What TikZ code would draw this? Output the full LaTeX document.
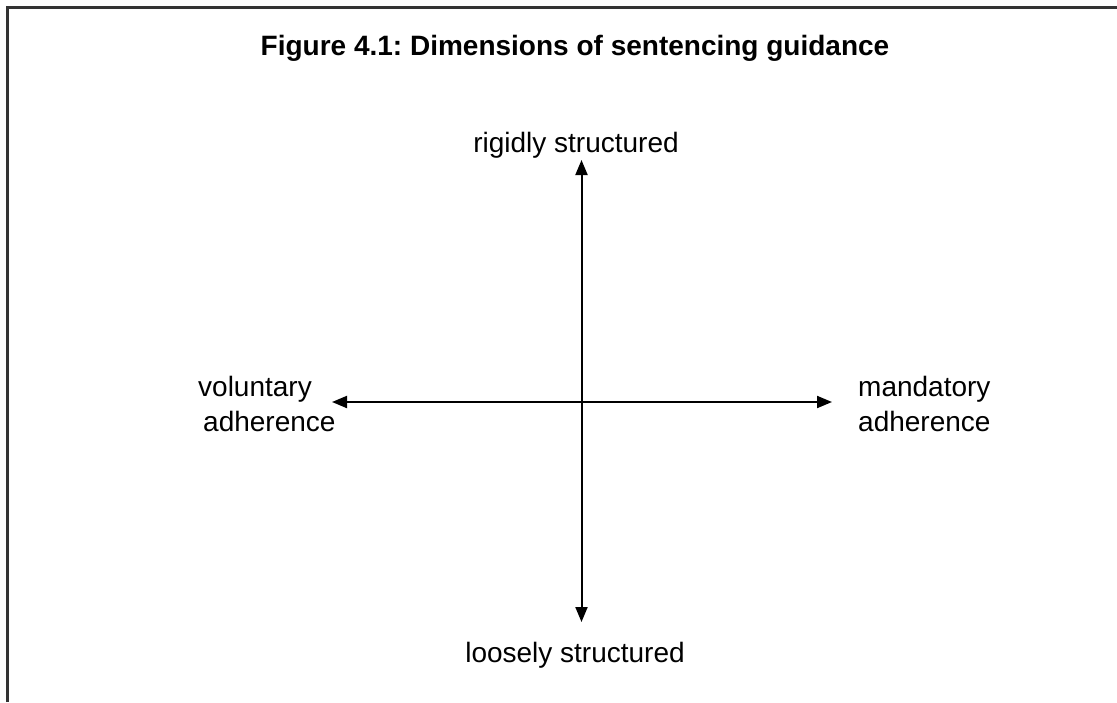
\documentclass[tikz,border=0pt]{standalone}
\usepackage{fontspec}
\setmainfont{Liberation Sans}
\usetikzlibrary{arrows.meta}
\frenchspacing
\begin{document}
\begin{tikzpicture}[x=1pt,y=-1pt,
  lbl/.style={inner sep=0pt,font=\fontsize{28}{35}\selectfont},
  ttl/.style={inner sep=0pt,font=\fontsize{28}{35}\selectfont\bfseries},
  axis/.style={line width=2pt,{Triangle[length=15pt,width=12pt]}-{Triangle[length=15pt,width=12pt]}},
  frame/.style={line width=3pt,draw=black!80}]
\useasboundingbox (0,0) rectangle (1117,702);
\draw[frame] (7.5,702) -- (7.5,7.5) -- (1117,7.5);
\node[ttl,anchor=base] (title) at (575,55) {Figure 4.1:\ Dimensions of sentencing guidance};
\node[lbl,anchor=base] (rigid) at (576,152) {rigidly structured};
\node[lbl,anchor=base] (loose) at (575,662) {loosely structured};
\node[lbl,anchor=base west] (vol1) at (198,396) {voluntary};
\node[lbl,anchor=base west] (vol2) at (203,431) {adherence};
\node[lbl,anchor=base west] (man1) at (858,396) {mandatory};
\node[lbl,anchor=base west] (man2) at (858,431) {adherence};
\coordinate (top) at (581.5,160);
\coordinate (bot) at (581.5,622);
\coordinate (lft) at (332,402);
\coordinate (rgt) at (832,402);
\draw[axis] (bot) -- (top);
\draw[axis] (lft) -- (rgt);
\end{tikzpicture}
\end{document}
